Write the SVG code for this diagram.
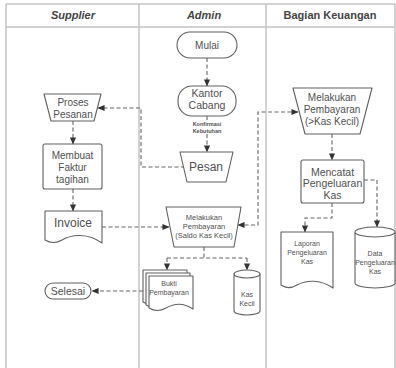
<svg xmlns="http://www.w3.org/2000/svg" width="396" height="368" viewBox="0 0 396 368">
<defs>
<style>
.lane{fill:none;stroke:#c4c4c4;stroke-width:1.5}
.hd{font-family:"Liberation Sans",Arial,sans-serif;font-size:11px;font-weight:bold;fill:#444;text-anchor:middle}
.sh{fill:#fff;stroke:#606060;stroke-width:1.1;stroke-linejoin:round}
.t{font-family:"Liberation Sans",Arial,sans-serif;fill:#505050;text-anchor:middle}
.c{fill:none;stroke:#666;stroke-width:1.1;stroke-dasharray:4 2.5}
</style>
<marker id="ah" viewBox="0 0 8 8" refX="7.5" refY="4" markerWidth="7" markerHeight="7" orient="auto-start-reverse" markerUnits="userSpaceOnUse">
<path d="M0,0.5 L8,4 L0,7.5 Z" fill="#333"/>
</marker>
</defs>
<rect width="396" height="368" fill="#fff"/>
<g id="lanes">
<path class="lane" d="M6,4 H395 M6,27 H395 M6,4 V368 M139,4 V368 M266,4 V368 M395,4 V368"/>
<text class="hd" x="73" y="19" font-style="italic">Supplier</text>
<text class="hd" x="204" y="19" font-style="italic">Admin</text>
<text class="hd" x="330" y="19">Bagian Keuangan</text>
</g>
<g id="connectors">
<path class="c" d="M207,58 V86" marker-end="url(#ah)"/>
<path class="c" d="M207,116 V120"/>
<path class="c" d="M207,134 V152" marker-end="url(#ah)"/>
<path class="c" d="M185,167 H141 V108 H98" marker-end="url(#ah)"/>
<path class="c" d="M73,121 V144" marker-end="url(#ah)"/>
<path class="c" d="M73,189 V211" marker-end="url(#ah)"/>
<path class="c" d="M102,227 H169" marker-end="url(#ah)"/>
<path class="c" d="M238,225 H258 V112 H298" marker-start="url(#ah)" marker-end="url(#ah)"/>
<path class="c" d="M204,247 V258 M167,258 H247"/>
<path class="c" d="M167,258 V270" marker-end="url(#ah)"/>
<path class="c" d="M247,258 V270" marker-end="url(#ah)"/>
<path class="c" d="M143,291 H92" marker-end="url(#ah)"/>
<path class="c" d="M332,134 V160" marker-end="url(#ah)"/>
<path class="c" d="M332,203 V218 H305 V232" marker-end="url(#ah)"/>
<path class="c" d="M364,180 H377 V227" marker-end="url(#ah)"/>
<text class="t" x="207" y="126" font-size="5.5" font-weight="bold">Konfirmasi</text>
<text class="t" x="207" y="133" font-size="5.5" font-weight="bold">Kebutuhan</text>
</g>
<g id="mulai">
<rect class="sh" x="177" y="32" width="60" height="26" rx="13"/>
<text class="t" x="207" y="48.5" font-size="10">Mulai</text>
</g>
<g id="kantor">
<rect class="sh" x="178" y="86" width="58" height="30" rx="14"/>
<text class="t" x="207" y="97" font-size="10.5">Kantor</text>
<text class="t" x="207" y="109" font-size="10.5">Cabang</text>
</g>
<g id="pesan">
<path class="sh" d="M180,152 H233 L226,182 H187 Z"/>
<text class="t" x="206" y="171" font-size="12">Pesan</text>
</g>
<g id="proses">
<path class="sh" d="M44,94 H101 L94,121 H51 Z"/>
<text class="t" x="73" y="106" font-size="10">Proses</text>
<text class="t" x="73" y="118" font-size="10">Pesanan</text>
</g>
<g id="faktur">
<rect class="sh" x="43" y="144" width="59" height="45" rx="2"/>
<text class="t" x="72.5" y="159" font-size="10">Membuat</text>
<text class="t" x="72.5" y="171" font-size="10">Faktur</text>
<text class="t" x="72.5" y="183" font-size="10">tagihan</text>
</g>
<g id="invoice">
<path class="sh" d="M45,211 H102 V243 C88,233 72,234 62,240 C55,244 50,243 45,240 Z"/>
<text class="t" x="73" y="227" font-size="12">Invoice</text>
</g>
<g id="bayar-admin">
<path class="sh" d="M166,207 H241 L234,247 H174 Z"/>
<text class="t" x="204" y="219.5" font-size="7.5">Melakukan</text>
<text class="t" x="204" y="228.5" font-size="7.5">Pembayaran</text>
<text class="t" x="204" y="237.5" font-size="7.5">(Saldo Kas Kecil)</text>
</g>
<g id="bukti">
<path class="sh" d="M143,270 H187 V302 C177,296 167,298 160,302 C153,306 148,305 143,302 Z"/>
<path class="sh" d="M146,273 H190 V305 C180,299 170,301 163,305 C156,309 151,308 146,305 Z"/>
<path class="sh" d="M149,276 H193 V309 C183,302 173,304 166,308 C159,312 154,311 149,308 Z"/>
<text class="t" x="169" y="286" font-size="7">Bukti</text>
<text class="t" x="169" y="295" font-size="7">Pembayaran</text>
</g>
<g id="kaskecil">
<path class="sh" d="M234,274 V311 A13,4 0 0 0 260,311 V274 A13,4 0 0 0 234,274 A13,4 0 0 0 260,274"/>
<text class="t" x="247" y="297" font-size="7">Kas</text>
<text class="t" x="247" y="306" font-size="7">Kecil</text>
</g>
<g id="selesai">
<rect class="sh" x="45" y="283" width="46" height="16" rx="8"/>
<text class="t" x="68" y="295" font-size="10.5">Selesai</text>
</g>
<g id="bayar-keuangan">
<path class="sh" d="M293,88 H372 L360,134 H305 Z"/>
<text class="t" x="332" y="101" font-size="10">Melakukan</text>
<text class="t" x="332" y="113" font-size="10">Pembayaran</text>
<text class="t" x="332" y="125" font-size="10">(&gt;Kas Kecil)</text>
</g>
<g id="mencatat">
<rect class="sh" x="301" y="160" width="63" height="43" rx="2"/>
<text class="t" x="332.5" y="175.5" font-size="10.5">Mencatat</text>
<text class="t" x="332.5" y="187" font-size="10.5">Pengeluaran</text>
<text class="t" x="332.5" y="198.5" font-size="10.5">Kas</text>
</g>
<g id="laporan">
<path class="sh" d="M281,232 H333 V288 C320,279 306,280 297,285 C290,289 286,288 281,285 Z"/>
<text class="t" x="307" y="245.5" font-size="7">Laporan</text>
<text class="t" x="307" y="254.5" font-size="7">Pengeluaran</text>
<text class="t" x="307" y="263.5" font-size="7">Kas</text>
</g>
<g id="data">
<path class="sh" d="M355,232 V283 A20,5 0 0 0 395,283 V232 A20,5 0 0 0 355,232 A20,5 0 0 0 395,232"/>
<text class="t" x="375" y="256" font-size="7">Data</text>
<text class="t" x="375" y="265" font-size="7">Pengeluaran</text>
<text class="t" x="375" y="274" font-size="7">Kas</text>
</g>
</svg>
